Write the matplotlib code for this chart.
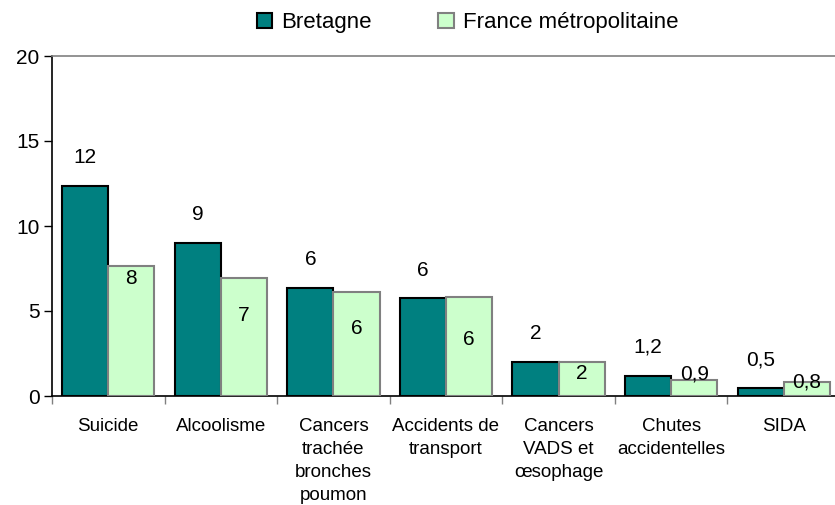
import numpy as np
import matplotlib
matplotlib.use("Agg")
import matplotlib.pyplot as plt

categories = ["Suicide", "Alcoolisme", "Cancers\ntrachée\nbronches\npoumon",
              "Accidents de\ntransport", "Cancers\nVADS et\nœsophage",
              "Chutes\naccidentelles", "SIDA"]
bretagne = [12.35, 9.0, 6.35, 5.75, 2.0, 1.2, 0.47]
france = [7.65, 6.95, 6.1, 5.8, 2.0, 0.94, 0.82]
bretagne_labels = ["12", "9", "6", "6", "2", "1,2", "0,5"]
france_labels = ["8", "7", "6", "6", "2", "0,9", "0,8"]
# where the France labels sit (hand placed in the original)
france_label_y = [6.9, 4.75, 4.0, 3.3, 1.35, 1.3, 0.85]

plt.rcParams["font.family"] = ["Liberation Sans", "DejaVu Sans"]

fig = plt.figure(figsize=(8.35, 5.05), dpi=100)
ax = fig.add_axes([52 / 835, 1 - 396 / 505, 788 / 835, 340 / 505])

x = np.arange(len(categories))
w = 0.41
ax.bar(x - w / 2, bretagne, w, color="#008080", edgecolor="black",
       linewidth=1.5, label="Bretagne", zorder=3)
ax.bar(x + w / 2, france, w, color="#CCFFCC", edgecolor="#808080",
       linewidth=1.5, label="France métropolitaine", zorder=3)

for i in range(len(categories)):
    ax.text(x[i] - w / 2, bretagne[i] + 1.1, bretagne_labels[i],
            ha="center", va="bottom", fontsize=15)
    ax.text(x[i] + w / 2, france_label_y[i], france_labels[i],
            ha="center", va="center", fontsize=15)

ax.set_xlim(-0.5, len(categories) - 0.5)
ax.set_ylim(0, 20)
ax.set_yticks([0, 5, 10, 15, 20])
ax.tick_params(axis="y", direction="out", length=6, width=1, color="black",
               labelsize=15, pad=3)
ax.set_xticks(x)
ax.set_xticklabels(categories, fontsize=13.5, linespacing=1.45)
ax.tick_params(axis="x", which="major", length=0, pad=16)
ax.set_xticks(np.arange(len(categories) + 1) - 0.5, minor=True)
ax.tick_params(axis="x", which="minor", direction="out", length=6,
               width=1, color="#808080")

for s in ["left", "bottom"]:
    ax.spines[s].set_color("black")
    ax.spines[s].set_linewidth(1.2)
ax.spines["top"].set_color("#808080")
ax.spines["top"].set_linewidth(1.2)
ax.spines["right"].set_visible(False)

fig.legend(loc="upper center", bbox_to_anchor=(0.56, 1.015), ncol=2,
           frameon=False, fontsize=16, handlelength=0.7, handleheight=0.7,
           columnspacing=3.0, handletextpad=0.4)

fig.savefig("out.png", dpi=100)
